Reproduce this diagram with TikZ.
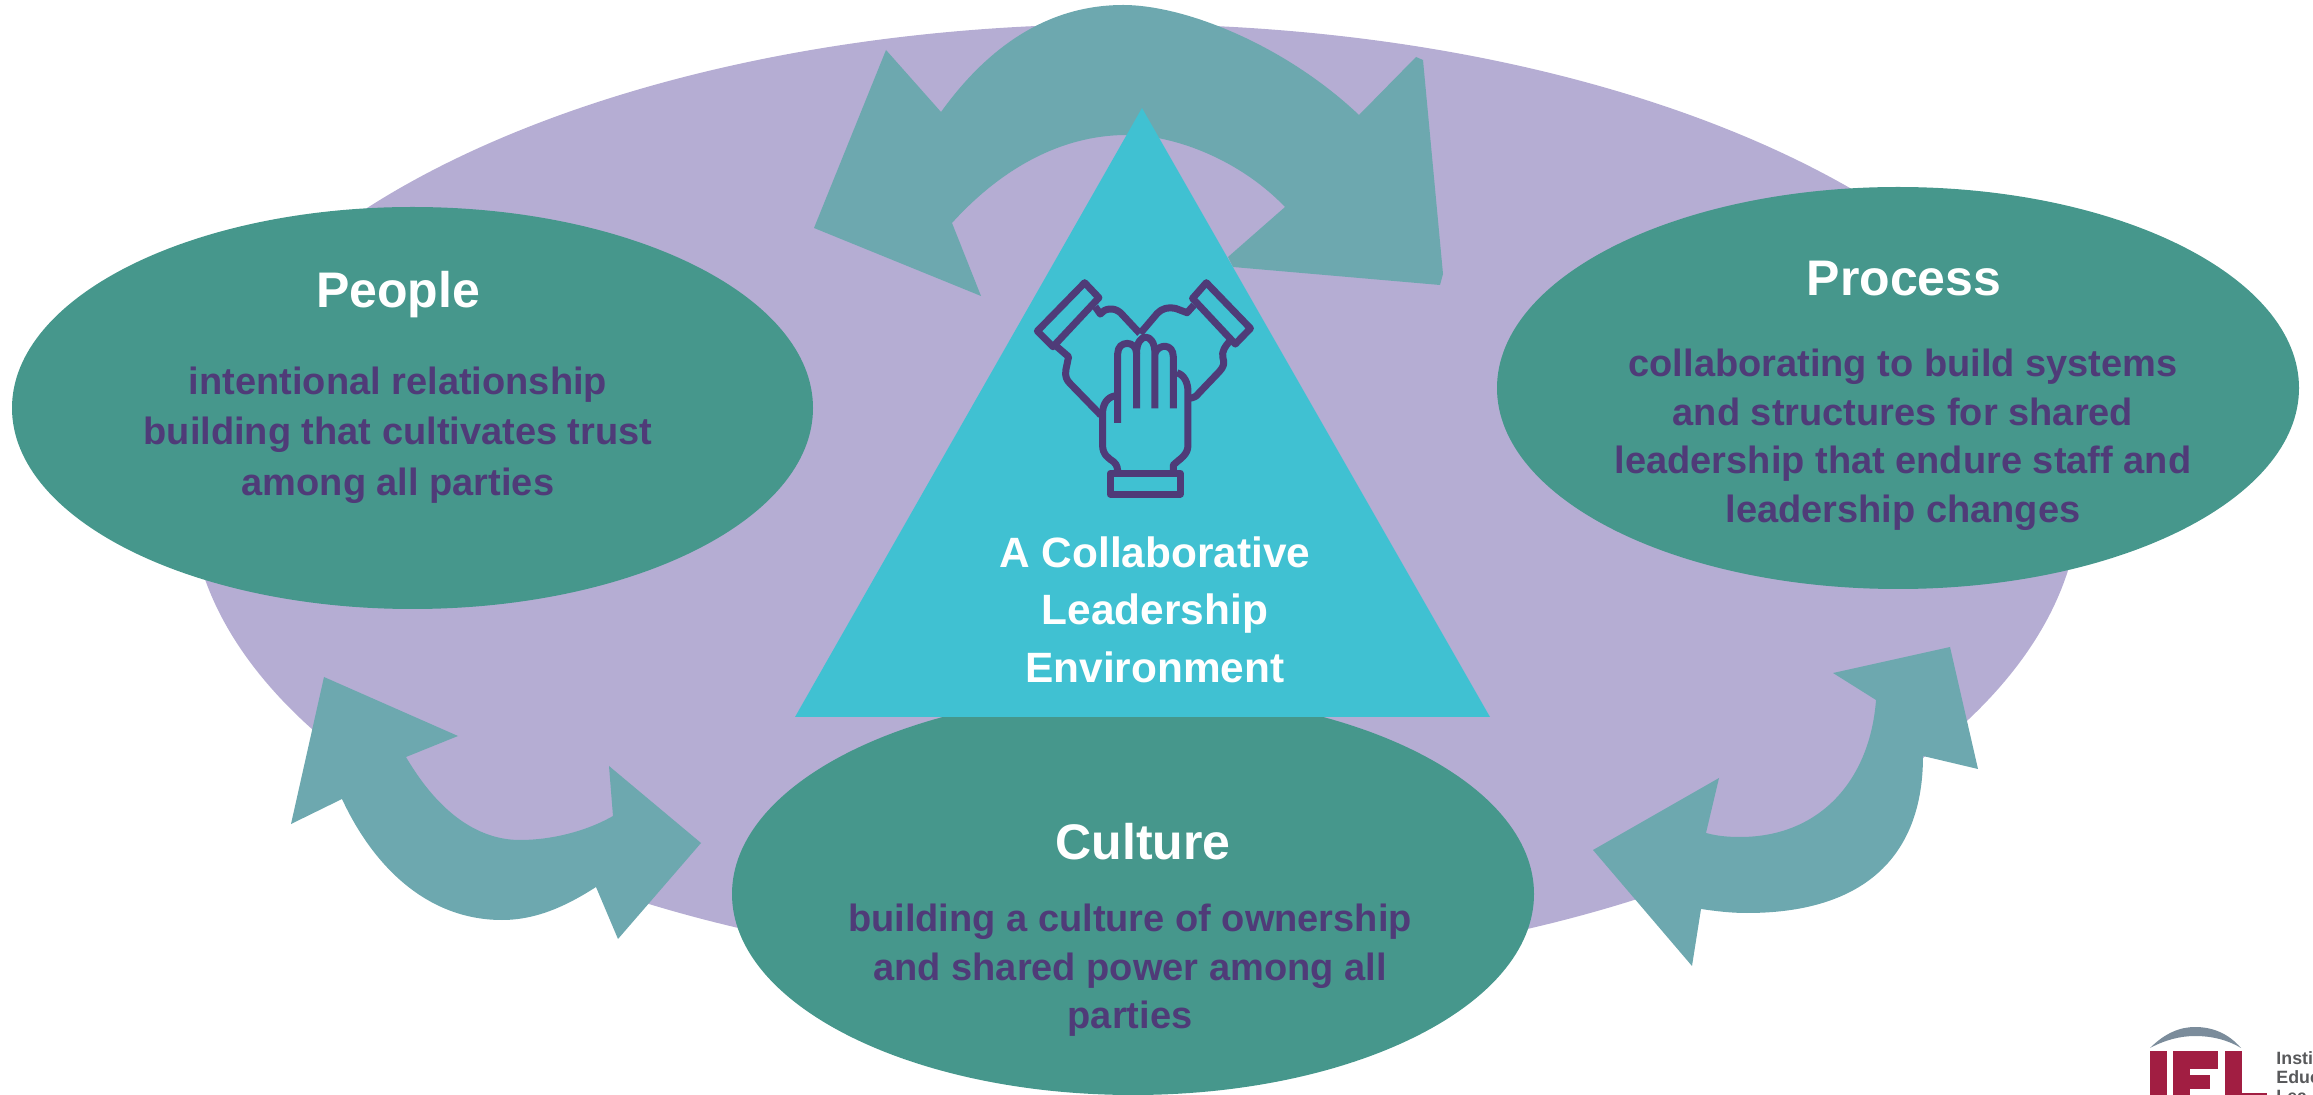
\documentclass[tikz,border=0pt]{standalone}
\usepackage{fontspec}
\setmainfont{Liberation Sans}
\definecolor{lav}{HTML}{B5ADD3}
\definecolor{arrowteal}{HTML}{6DA8AF}
\definecolor{oval}{HTML}{46978C}
\definecolor{tri}{HTML}{40C1D2}
\definecolor{plum}{HTML}{4F3B78}
\definecolor{iel}{HTML}{A11E42}
\definecolor{ielgrey}{HTML}{7B8C9B}
\definecolor{ieltext}{HTML}{58595B}
\newcommand{\firstb}{\rule{0pt}{14pt}}
\newcommand{\firstt}{\rule{0pt}{15pt}}
\tikzset{
  titletext/.style={anchor=base,inner sep=0pt,text=white,font=\fontsize{25}{30}\selectfont\bfseries},
  bodytext/.style={anchor=north,inner sep=0pt,text=plum,align=center,font=\fontsize{19}{24.2}\selectfont\bfseries},
  peopletext/.style={bodytext,font=\fontsize{19}{25.25}\selectfont\bfseries},
  tritext/.style={anchor=north,inner sep=0pt,text=white,align=center,font=\fontsize{21.2}{28.75}\selectfont\bfseries},
  logotext/.style={anchor=base west,inner sep=0pt,text=ieltext,font=\fontsize{8.9}{10}\selectfont\bfseries},
  handline/.style={draw=plum,line width=3.5pt,line join=round,line cap=butt}
}
\begin{document}
\begin{tikzpicture}[x=0.5pt,y=-0.5pt]
\useasboundingbox (0,0) rectangle (2313,1095);
% lavender backdrop
\fill[lav] (170,494) arc [start angle=180,end angle=360,x radius=955,y radius=470] arc [start angle=0,end angle=180,x radius=945,y radius=478] -- cycle;
% arrows
\fill[arrowteal] (886,50) -- (941,112) .. controls (1000,30) and (1065,5) .. (1123,5) .. controls (1185,5) and (1285,45) .. (1359,115) -- (1416,57) -- (1423,60) -- (1443,274) -- (1440,285) -- (1233,267) -- (1228,257) -- (1285,207) .. controls (1240,160) and (1175,135) .. (1127,135) .. controls (1060,135) and (1000,170) .. (952,223) -- (981,296) -- (814,228) -- cycle;
\fill[arrowteal] (324,677) -- (458,736) -- (406,757) .. controls (440,815) and (480,840) .. (520,840) .. controls (550,840) and (585,832) .. (613,816) -- (609,766) -- (701,843) -- (618,939) -- (596,887) .. controls (565,907) and (535,920) .. (502,920) .. controls (430,920) and (375,870) .. (342,799) -- (291,824) -- cycle;
\fill[arrowteal] (1950,647) -- (1978,769) -- (1923,756) .. controls (1923,860) and (1860,913) .. (1747,913) .. controls (1730,913) and (1715,911) .. (1701,909) -- (1692,966) -- (1593,850) -- (1719,778) -- (1706,833) .. controls (1717,836) and (1728,837) .. (1740,837) .. controls (1820,837) and (1870,780) .. (1876,700) -- (1833,673) -- cycle;
% ovals
\fill[oval] (412.5,408) ellipse [x radius=400.5,y radius=201];
\fill[oval] (1898,388) ellipse [x radius=401,y radius=201];
\fill[oval] (1133,894) ellipse [x radius=401,y radius=201];
% triangle
\fill[tri] (1142,108) -- (1490,717) -- (795,717) -- cycle;
% hand icon
\begin{scope}[shift={(760,0)},x=0.2296pt,y=-0.1667pt]
\path[handline] (707,848) -- (738,893) -- (638,1040) -- (604,993) -- cycle;
\path[handline] (972,848) -- (1068,985) -- (1035,1032) -- (942,895) -- cycle;
\path[handline] (730,920) -- (741,942) .. controls (750,925) and (770,920) .. (785,938) -- (827,1000);
\path[handline] (645,1038) -- (672,1070) -- (666,1110) .. controls (664,1130) and (668,1140) .. (675,1150) -- (742,1245);
\path[handline] (945,915) -- (930,938) -- (905,925) .. controls (890,920) and (875,925) .. (865,940) -- (828,1000);
\path[handline] (1025,1020) .. controls (1012,1040) and (1005,1055) .. (1008,1072) .. controls (1012,1090) and (1010,1100) .. (1000,1115) -- (955,1180) .. controls (950,1190) and (945,1192) .. (935,1195);
\path[handline] (763,1420) rectangle (915,1482);
\path[handline] (779,1268) -- (779,1060) .. controls (779,1020) and (820,1020) .. (820,1060) -- (820,1225);
\path[handline] (820,1060) .. controls (820,995) and (860,995) .. (860,1060) -- (860,1225);
\path[handline] (860,1060) .. controls (868,1030) and (900,1030) .. (900,1070) -- (900,1225);
\path[handline] (908,1118) .. controls (925,1125) and (932,1150) .. (932,1175) -- (932,1335) .. controls (932,1365) and (915,1375) .. (900,1395) -- (900,1420);
\path[handline] (775,1187) .. controls (755,1190) and (746,1215) .. (746,1240) -- (746,1335) .. controls (746,1365) and (760,1375) .. (770,1385) .. controls (778,1395) and (779,1405) .. (779,1420);
\end{scope}
% texts
\node[titletext] (peopleT) at (398,308) {People};
\node[peopletext] (peopleB) at (398,366) {\firstb intentional relationship\\building that cultivates trust\\among all parties};
\node[titletext] (processT) at (1904,296) {Process};
\node[bodytext] (processB) at (1903,348.5) {\firstb collaborating to build systems\\and structures for shared\\leadership that endure staff and\\leadership changes};
\node[titletext] (cultureT) at (1143,859) {Culture};
\node[bodytext] (cultureB) at (1130,903.5) {\firstb building a culture of ownership\\and shared power among all\\parties};
\node[tritext] (triT) at (1155,536) {\firstt A Collaborative\\Leadership\\Environment};
% logo
\begin{scope}
\clip (2100,1000) rectangle (2313,1095);
\fill[ielgrey] (2150,1048) .. controls (2165,1033) and (2180,1027) .. (2195,1027) .. controls (2212,1027) and (2228,1033) .. (2241,1048) .. controls (2228,1040) and (2212,1036) .. (2195,1036) .. controls (2180,1036) and (2165,1040) .. (2150,1048) -- cycle;
\fill[iel] (2150,1051) rectangle (2167,1095);
\fill[iel] (2173,1051) rectangle (2218,1069);
\fill[iel] (2173,1051) rectangle (2190,1095);
\fill[iel] (2190,1075) rectangle (2210,1089);
\fill[iel] (2225,1051) rectangle (2242,1095);
\fill[iel] (2225,1093) rectangle (2267,1095);
\node[logotext] (logo1) at (2276,1064) {Insti};
\node[logotext] (logo2) at (2276,1083) {Educ};
\node[logotext] (logo3) at (2276,1102) {Lea};
\end{scope}
\end{tikzpicture}
\end{document}
